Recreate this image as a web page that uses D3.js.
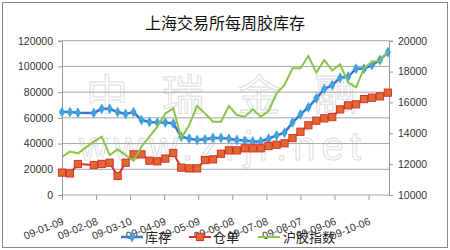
<!DOCTYPE html>
<html>
<head>
<meta charset="utf-8">
<script src="https://cdn.jsdelivr.net/npm/d3@7/dist/d3.min.js"></script>
<style>
  body { margin: 0; background: #fff; }
  svg { display: block; font-family: "Liberation Sans", Arial, sans-serif; }
  .tick text { fill: #333; font-size: 10.5px; }
  .cjk { font-family: "Noto Sans CJK SC", sans-serif; }
</style>
</head>
<body>
<div id="chart"></div>
<script>
// weekly dates (yy-mm-dd)
const dates = ["09-01-09","09-01-16","09-01-23","09-02-06","09-02-13","09-02-20","09-02-27",
  "09-03-06","09-03-13","09-03-20","09-03-27","09-04-03","09-04-10","09-04-17","09-04-24",
  "09-05-01","09-05-08","09-05-15","09-05-22","09-05-29","09-06-05","09-06-12","09-06-19",
  "09-06-26","09-07-03","09-07-10","09-07-17","09-07-24","09-07-31","09-08-07","09-08-14",
  "09-08-21","09-08-28","09-09-04","09-09-11","09-09-18","09-09-25","09-10-02","09-10-09",
  "09-10-16","09-10-23"]

// 库存 (left axis)
const stock = [64500,64500,64000,63800,67000,67000,64500,63000,64500,58300,56800,56300,56300,
  55700,45300,43800,42800,43300,44300,44300,43800,42800,42300,41700,41700,43800,46400,48500,
  56300,62700,68200,75200,82400,85500,91200,92000,98200,98200,101000,105000,111000]

// 仓单 (left axis)
const warrant = [17400,16800,24100,23300,24100,25100,14800,25100,31600,31600,26700,26200,28300,
  32700,21300,20700,20700,27200,27700,32100,34700,34700,36300,36300,36300,38100,39100,40200,
  44300,49200,54200,57800,59600,60600,66600,69700,70500,74600,75700,76700,79600]

// 沪胶指数 (right axis)
const rubberIndex = [12480,12810,12700,13460,13780,12590,12960,12590,12220,13130,13780,14430,
  15290,15620,13670,14540,15770,15290,14750,14750,15770,15180,15080,15550,15080,15440,16590,
  17130,18210,18210,19010,17930,18750,18060,18470,17280,16980,18210,18640,18700,19330]

const xTickLabels = ["09-01-09","09-02-08","09-03-10","09-04-09","09-05-09","09-06-08",
  "09-07-08","09-08-07","09-09-06","09-10-06"]
const leftTicks = [0,20000,40000,60000,80000,100000,120000]
const rightTicks = [10000,12000,14000,16000,18000,20000]
const seriesNames = ["库存","仓单","沪胶指数"]

const parse = d3.timeParse("%y-%m-%d")
const width = 450, height = 250
const margin = {top: 40.7, right: 61, bottom: 55, left: 62}

const svg = d3.select("#chart").append("svg")
    .attr("width", width)
    .attr("height", height)

svg.append("rect")
    .attr("x", 2.5).attr("y", 2.5)
    .attr("width", width - 5).attr("height", height - 5)
    .attr("fill", "#fff")
    .attr("stroke", "#8a8a8a")

const x = d3.scaleTime()
    .domain([parse("09-01-09"), parse("09-10-24")])
    .range([margin.left, width - margin.right])
const yL = d3.scaleLinear().domain([0, 120000]).range([height - margin.bottom, margin.top])
const yR = d3.scaleLinear().domain([10000, 20000]).range([height - margin.bottom, margin.top])

// watermark
const wm = svg.append("g").attr("fill", "none").attr("stroke", "#dedede").attr("stroke-width", 1)
wm.selectAll("text.wm").data(["中","瑞","金","融"]).enter().append("text")
    .attr("class", "cjk")
    .attr("x", (d, i) => 107 + i * 76)
    .attr("y", 110)
    .attr("text-anchor", "middle")
    .attr("font-size", 42)
    .text(d => d)
wm.append("text")
    .attr("x", 223).attr("y", 160)
    .attr("text-anchor", "middle")
    .attr("font-size", 40)
    .attr("letter-spacing", 6)
    .text("www.zrjr.net")

// gridlines
svg.append("g")
  .selectAll("line")
  .data(leftTicks)
  .enter().append("line")
    .attr("x1", margin.left).attr("x2", width - margin.right)
    .attr("y1", d => yL(d)).attr("y2", d => yL(d))
    .attr("stroke", "#a6a6a6")

// axes
const leftAxis = svg.append("g")
    .attr("transform", `translate(${margin.left},0)`)
    .call(d3.axisLeft(yL).tickValues(leftTicks).tickFormat(d3.format("d")).tickSize(4).tickPadding(5))
const rightAxis = svg.append("g")
    .attr("transform", `translate(${width - margin.right},0)`)
    .call(d3.axisRight(yR).tickValues(rightTicks).tickFormat(d3.format("d")).tickSize(4).tickPadding(5))
const bottomAxis = svg.append("g")
    .attr("transform", `translate(0,${height - margin.bottom})`)
    .call(d3.axisBottom(x).tickValues(xTickLabels.map(parse)).tickFormat(d3.timeFormat("%y-%m-%d")).tickSize(5))

;[leftAxis, rightAxis, bottomAxis].forEach(a => {
  a.select(".domain").attr("stroke", "#999")
  a.selectAll(".tick line").attr("stroke", "#999")
  a.attr("font-family", null).attr("font-size", null)
})
bottomAxis.select(".domain").remove()
bottomAxis.selectAll(".tick text")
    .attr("text-anchor", "end")
    .attr("dy", null)
    .attr("y", 0)
    .attr("font-size", 11)
    .attr("transform", "translate(2,29) rotate(-22)")

// series
const dts = dates.map(parse)
const lineL = d3.line().x((d, i) => x(dts[i])).y(d => yL(d))
const lineR = d3.line().x((d, i) => x(dts[i])).y(d => yR(d))

svg.append("path")
    .attr("d", lineL(stock))
    .attr("fill", "none").attr("stroke", "#3b76d0").attr("stroke-width", 2.5)
svg.append("g").selectAll("path")
  .data(stock).enter().append("path")
    .attr("transform", (d, i) => `translate(${x(dts[i])},${yL(d)})`)
    .attr("d", d3.symbol(d3.symbolDiamond, 34))
    .attr("fill", "#41a0de")

svg.append("path")
    .attr("d", lineL(warrant))
    .attr("fill", "none").attr("stroke", "#d83030").attr("stroke-width", 2)
svg.append("g").selectAll("rect")
  .data(warrant).enter().append("rect")
    .attr("x", (d, i) => x(dts[i]) - 3.6)
    .attr("y", d => yL(d) - 3.6)
    .attr("width", 7.2).attr("height", 7.2)
    .attr("fill", "#e06a2c").attr("stroke", "#d83030").attr("stroke-width", 1)

svg.append("path")
    .attr("d", lineR(rubberIndex))
    .attr("fill", "none").attr("stroke", "#8dc447").attr("stroke-width", 2)

// title
svg.append("text")
    .attr("class", "cjk")
    .attr("x", 225).attr("y", 29)
    .attr("text-anchor", "middle")
    .attr("font-size", 16)
    .attr("fill", "#111")
    .text("上海交易所每周胶库存")

// legend
const legendX = [121, 189, 258]
const legendColors = ["#3b76d0", "#d83030", "#8dc447"]
const legend = svg.append("g").attr("transform", "translate(0,237)")
const items = legend.selectAll("g").data(seriesNames).enter().append("g")
    .attr("transform", (d, i) => `translate(${legendX[i]},0)`)
items.append("line")
    .attr("x1", 0).attr("x2", 22)
    .attr("stroke", (d, i) => legendColors[i])
    .attr("stroke-width", (d, i) => i === 0 ? 2.5 : 2)
items.filter((d, i) => i === 0).append("path")
    .attr("transform", "translate(11,0)")
    .attr("d", d3.symbol(d3.symbolDiamond, 34))
    .attr("fill", "#41a0de")
items.filter((d, i) => i === 1).append("rect")
    .attr("x", 7.4).attr("y", -3.6).attr("width", 7.2).attr("height", 7.2)
    .attr("fill", "#e06a2c").attr("stroke", "#d83030")
items.append("text")
    .attr("class", "cjk")
    .attr("x", (d, i) => i === 2 ? 25 : 24)
    .attr("y", 5)
    .attr("font-size", 13)
    .attr("fill", "#222")
    .text(d => d)
</script>
</body>
</html>
